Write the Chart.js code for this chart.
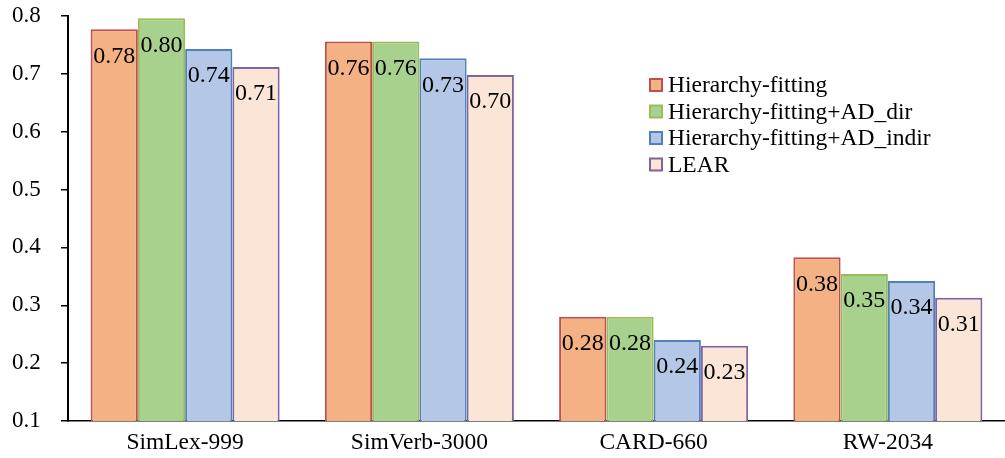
<!DOCTYPE html>
<html>
<head>
<meta charset="utf-8">
<script src="https://cdn.jsdelivr.net/npm/chart.js@4/dist/chart.umd.min.js"></script>
<style>
  html, body { margin: 0; padding: 0; background: #fff; }
  #wrap { width: 1005px; height: 458px; }
</style>
</head>
<body>
<div id="wrap"><canvas id="myChart"></canvas></div>
<script>
'use strict';

// ***** DATA *****
const categories = ['SimLex-999', 'SimVerb-3000', 'CARD-660', 'RW-2034'];
const seriesNames = ['Hierarchy-fitting', 'Hierarchy-fitting+AD_dir', 'Hierarchy-fitting+AD_indir', 'LEAR'];
const hierFitting = [0.777, 0.756, 0.280, 0.383];
const hierFittingDir = [0.796, 0.756, 0.280, 0.354];
const hierFittingIndir = [0.743, 0.727, 0.240, 0.342];
const lear = [0.712, 0.698, 0.230, 0.313];
const yTicks = [0.1, 0.2, 0.3, 0.4, 0.5, 0.6, 0.7, 0.8];

const fills = ['#F4B183', '#A9D18E', '#B4C7E7', '#FBE5D6'];
const borders = ['#C0504D', '#9BBB59', '#4F81BD', '#8064A2'];
const FONT = '"Liberation Serif", "Times New Roman", serif';

const ctx = document.getElementById('myChart').getContext('2d');

// values written inside the top of every bar
const valueLabels = {
  id: 'valueLabels',
  afterDatasetsDraw(chart) {
    const c = chart.ctx;
    c.save();
    c.font = '24px ' + FONT;
    c.fillStyle = '#000';
    c.textAlign = 'center';
    c.textBaseline = 'middle';
    chart.data.datasets.forEach((ds, i) => {
      chart.getDatasetMeta(i).data.forEach((bar, j) => {
        c.fillText(ds.data[j].toFixed(2), bar.x, bar.y + 27);
      });
    });
    c.restore();
  }
};

// legend sitting inside the plot, right of the second group
const innerLegend = {
  id: 'innerLegend',
  afterDraw(chart) {
    const c = chart.ctx;
    const x = 650, y0 = 85, step = 26.5;
    c.save();
    c.font = '23.5px ' + FONT;
    c.textBaseline = 'middle';
    chart.data.datasets.forEach((ds, i) => {
      const y = y0 + i * step;
      c.fillStyle = ds.backgroundColor;
      c.fillRect(x, y - 6, 12, 12);
      c.strokeStyle = ds.borderColor;
      c.lineWidth = 2;
      c.strokeRect(x, y - 6, 12, 12);
      c.fillStyle = '#000';
      c.fillText(ds.label, x + 18, y + 1);
    });
    c.restore();
  }
};

const allSeries = [hierFitting, hierFittingDir, hierFittingIndir, lear];

const chartObj = {
  type: 'bar',
  data: {
    labels: categories,
    datasets: allSeries.map((vals, i) => ({
      label: seriesNames[i],
      data: vals,
      backgroundColor: fills[i],
      borderColor: borders[i],
      borderWidth: 2,
      categoryPercentage: 0.807,
      barPercentage: 1.0
    }))
  },
  options: {
    responsive: true,
    maintainAspectRatio: false,
    animation: false,
    layout: { padding: { top: 16, right: 0, left: 12, bottom: 0 } },
    plugins: {
      legend: { display: false },
      tooltip: { enabled: false }
    },
    scales: {
      x: {
        grid: { display: false },
        border: { display: true, color: '#000', width: 1.5 },
        ticks: { color: '#000', font: { family: FONT, size: 23.5 }, padding: 0 },
        afterFit(scale) { scale.height = 37; }
      },
      y: {
        min: 0.1,
        max: 0.8,
        afterBuildTicks(scale) { scale.ticks = yTicks.map(v => ({ value: v })); },
        grid: { drawOnChartArea: false, drawTicks: true, tickLength: 7, color: '#000', lineWidth: 1.5 },
        border: { display: true, color: '#000', width: 2 },
        ticks: {
          color: '#000',
          font: { family: FONT, size: 23 },
          padding: 0,
          crossAlign: 'far',
          callback: v => Number(v).toFixed(1)
        },
        afterFit(scale) { scale.width = 56; }
      }
    }
  },
  plugins: [valueLabels, innerLegend]
};

const myChart = new Chart(ctx, chartObj);
</script>
</body>
</html>
